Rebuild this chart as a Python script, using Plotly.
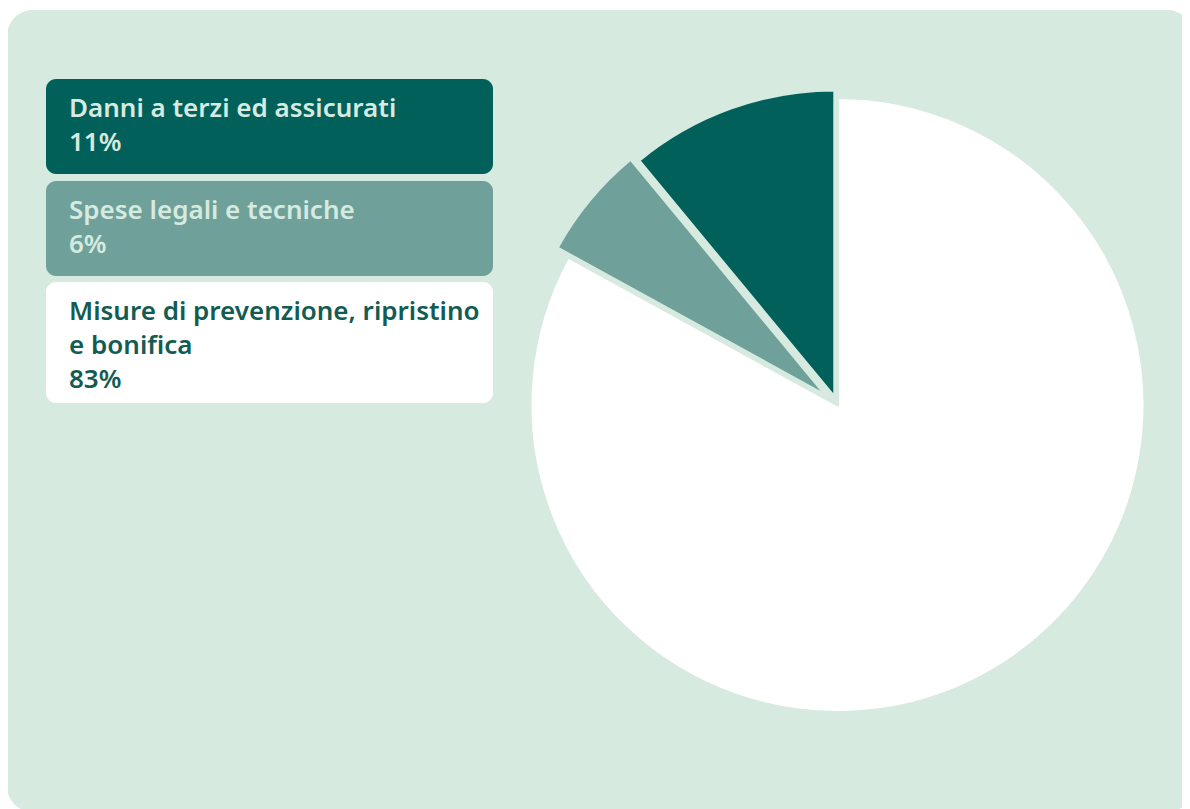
import plotly.graph_objects as go

OFF = 8  # page body margin
W, H = 1190 - OFF, 809 - OFF

# ---- data ----
labels = ["Danni a terzi ed assicurati", "Spese legali e tecniche",
          "Misure di prevenzione, ripristino e bonifica"]
legend_lines = ["Danni a terzi ed assicurati", "Spese legali e tecniche",
                "Misure di prevenzione, ripristino<br>e bonifica"]
values = [11, 6, 83]

# ---- style ----
BG = "#d6eae0"
slice_colors = ["#02605a", "#6fa19a", "#ffffff"]
text_colors = ["#d6eae0", "#d6eae0", "#135c53"]
pulls = [0.026, 0.046, 0.0]
box_tops = [79, 181, 282]
box_bottoms = [174, 276, 403]
box_left, box_right = 46, 493


def px(x):
    return (x - OFF) / W


def py(y):
    return 1 - (y - OFF) / H


def rrect(x0, y0, x1, y1, r):
    k = 0.5523 * r
    pts = [
        f"M {px(x0 + r)},{py(y0)}",
        f"L {px(x1 - r)},{py(y0)}",
        f"C {px(x1 - r + k)},{py(y0)} {px(x1)},{py(y0 + r - k)} {px(x1)},{py(y0 + r)}",
        f"L {px(x1)},{py(y1 - r)}",
        f"C {px(x1)},{py(y1 - r + k)} {px(x1 - r + k)},{py(y1)} {px(x1 - r)},{py(y1)}",
        f"L {px(x0 + r)},{py(y1)}",
        f"C {px(x0 + r - k)},{py(y1)} {px(x0)},{py(y1 - r + k)} {px(x0)},{py(y1 - r)}",
        f"L {px(x0)},{py(y0 + r)}",
        f"C {px(x0)},{py(y0 + r - k)} {px(x0 + r - k)},{py(y0)} {px(x0 + r)},{py(y0)}",
        "Z",
    ]
    return " ".join(pts)


# pie geometry
cx, cy, R = 837.5, 405.0, 307.5
box = R * (2 + 2 * max(pulls))
dom_x = [px(cx - box / 2), px(cx + box / 2)]
dom_y = [py(cy + box / 2), py(cy - box / 2)]

# first slice ends at 12 o'clock, slices proceed counterclockwise
rotation = -values[0] / sum(values) * 360

fig = go.Figure()
fig.add_trace(go.Pie(
    labels=labels, values=values, sort=False, direction="counterclockwise",
    rotation=rotation, pull=pulls, textinfo="none", hoverinfo="label+percent",
    marker=dict(colors=slice_colors, line=dict(color=BG, width=3)),
    domain=dict(x=dom_x, y=dom_y), showlegend=False,
))

shapes = [dict(type="path", xref="paper", yref="paper", layer="below",
               path=rrect(7, 10, 1193, 812, 26), fillcolor=BG, line=dict(width=0))]
annotations = []
for i in range(len(values)):
    shapes.append(dict(type="path", xref="paper", yref="paper", layer="below",
                       path=rrect(box_left, box_tops[i], box_right, box_bottoms[i], 10),
                       fillcolor=slice_colors[i], line=dict(width=0)))
    annotations.append(dict(
        x=px(67), y=py(box_tops[i] + 8), xref="paper", yref="paper",
        xanchor="left", yanchor="top", align="left", showarrow=False,
        text=f"{legend_lines[i]}<br>{values[i]}%",
        font=dict(family="Noto Sans", size=26, color=text_colors[i], weight=600),
    ))

fig.update_layout(
    width=W, height=H, margin=dict(l=0, r=0, t=0, b=0),
    paper_bgcolor="white", plot_bgcolor="white",
    shapes=shapes, annotations=annotations,
)
fig.write_html("out.html")
